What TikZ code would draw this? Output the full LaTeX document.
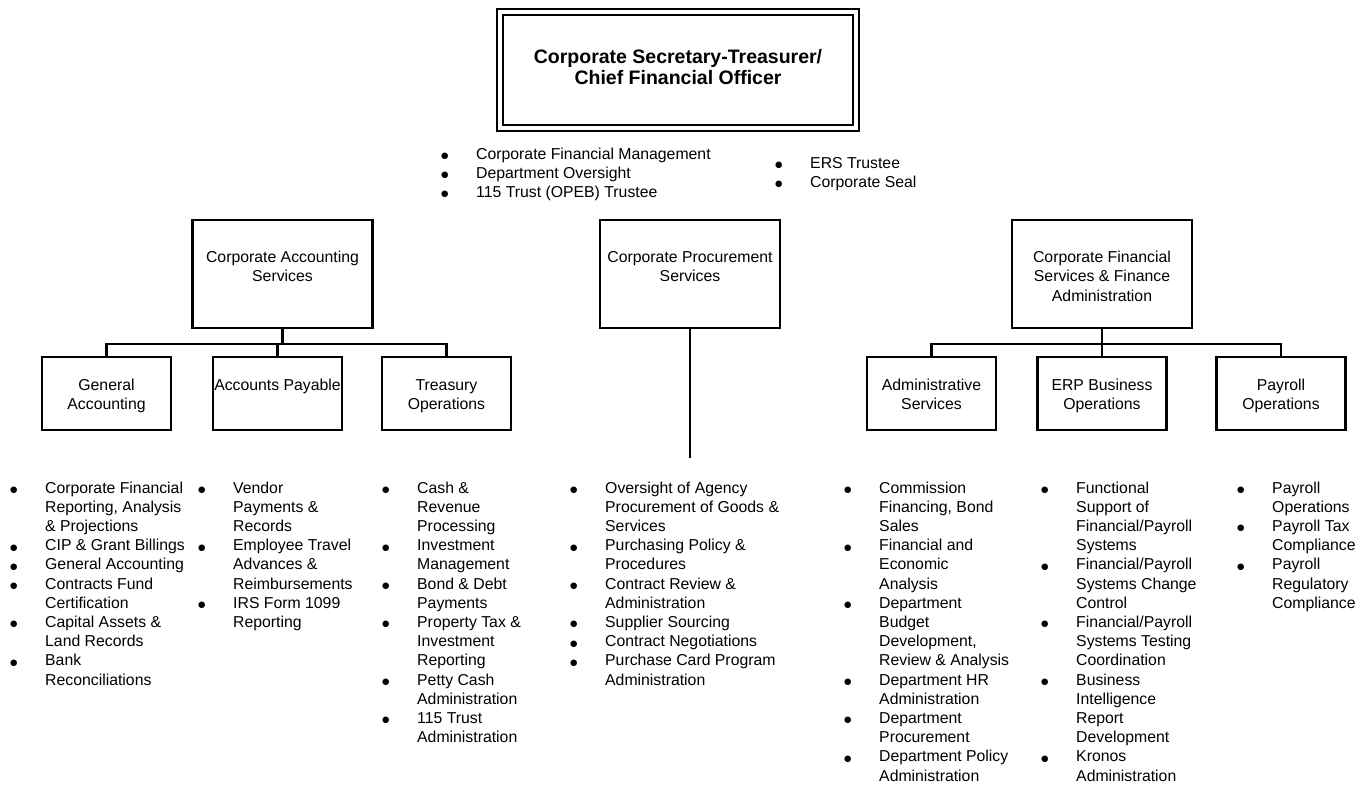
\documentclass[tikz,border=0pt]{standalone}
\usepackage{fontspec}
\setmainfont{Liberation Sans}
\newfontfamily\dotfont{DejaVu Sans}
\usetikzlibrary{positioning}
\newcommand{\bodyfont}{\fontsize{15.8}{19.2}\selectfont}
\newcommand{\titlefont}{\fontsize{19.5}{21}\selectfont\bfseries}
\newcommand{\bul}{\raisebox{0.6pt}{\fontsize{8.5}{8.5}\dotfont ●}}
\newcommand{\boxtext}[1]{\begin{tabular}[t]{@{}c@{}}#1\end{tabular}}
\newcommand{\dutylist}[1]{\begin{tabular}[t]{@{}p{35pt}@{}l@{}}#1\end{tabular}}
\tikzset{
    headbox/.style={draw, double, line width=1.8pt, double distance=4.2pt, minimum width=356, minimum height=116, inner sep=0, text height=12pt, text depth=24.8pt, font=\titlefont},
    unit/.style={draw, line width=2.2pt, minimum width=180, minimum height=108, inner sep=0, text height=12pt, text depth=34.8pt, font=\bodyfont},
    sub/.style={draw, line width=2.2pt, minimum width=129, minimum height=73, inner sep=0, text height=12pt, text depth=17.8pt, font=\bodyfont},
    link/.style={-, line width=2.2pt, draw=black},
    duties/.style={anchor=base west, inner sep=0, font=\bodyfont},
}
\begin{document}
\begin{tikzpicture}[x=1pt, y=-1pt]
    \useasboundingbox (0,0) rectangle (1359,785);
    % top office
    \node[headbox] (cfo) at (678,70) {\boxtext{Corporate Secretary-Treasurer/\\Chief Financial Officer}};
    \node[duties] (cfoduty) at (441,159) {\dutylist{
        \bul & Corporate Financial Management\\
        \bul & Department Oversight\\
        \bul & 115 Trust (OPEB) Trustee\\}};
    \node[duties] (cfoduty2) at (775,168) {\dutylist{
        \bul & ERS Trustee\\
        \bul & Corporate Seal\\}};

    % divisions
    \node[unit] (cas) at (282.5,274) {\boxtext{Corporate Accounting\\Services}};
    \node[unit] (cps) at (690,274) {\boxtext{Corporate Procurement\\Services}};
    \node[unit] (cfs) at (1102,274) {\boxtext{Corporate Financial\\Services \& Finance\\Administration}};

    % sections
    \node[sub] (ga) at (106.5,393.5) {\boxtext{General\\Accounting}};
    \node[sub] (ap) at (277.5,393.5) {\boxtext{Accounts Payable}};
    \node[sub] (to) at (446.5,393.5) {\boxtext{Treasury\\Operations}};
    \node[sub] (ads) at (931.5,393.5) {\boxtext{Administrative\\Services}};
    \node[sub] (erp) at (1102,393.5) {\boxtext{ERP Business\\Operations}};
    \node[sub] (pay) at (1281,393.5) {\boxtext{Payroll\\Operations}};

    \coordinate (casbar) at (282.5,344);
    \coordinate (cfsbar) at (1102,344);
    \coordinate (cpsend) at (690,458);
    \draw[link] (cas) -- (casbar);
    \draw[link] (ga.north) |- (casbar) -| (to.north);
    \draw[link] (ap.north) -- (ap.north |- casbar);
    \draw[link] (cfs) -- (cfsbar);
    \draw[link] (ads.north) |- (cfsbar) -| (pay.north);
    \draw[link] (erp) -- (cfsbar);
    \draw[link] (cps) -- (cpsend);

    % duties
    \node[duties] (gaduty) at (10,493) {\dutylist{
        \bul & Corporate Financial\\
             & Reporting, Analysis\\
             & \& Projections\\
        \bul & CIP \& Grant Billings\\
        \bul & General Accounting\\
        \bul & Contracts Fund\\
             & Certification\\
        \bul & Capital Assets \&\\
             & Land Records\\
        \bul & Bank\\
             & Reconciliations\\}};
    \node[duties] (apduty) at (198,493) {\dutylist{
        \bul & Vendor\\
             & Payments \&\\
             & Records\\
        \bul & Employee Travel\\
             & Advances \&\\
             & Reimbursements\\
        \bul & IRS Form 1099\\
             & Reporting\\}};
    \node[duties] (toduty) at (382,493) {\dutylist{
        \bul & Cash \&\\
             & Revenue\\
             & Processing\\
        \bul & Investment\\
             & Management\\
        \bul & Bond \& Debt\\
             & Payments\\
        \bul & Property Tax \&\\
             & Investment\\
             & Reporting\\
        \bul & Petty Cash\\
             & Administration\\
        \bul & 115 Trust\\
             & Administration\\}};
    \node[duties] (cpsduty) at (570,493) {\dutylist{
        \bul & Oversight of Agency\\
             & Procurement of Goods \&\\
             & Services\\
        \bul & Purchasing Policy \&\\
             & Procedures\\
        \bul & Contract Review \&\\
             & Administration\\
        \bul & Supplier Sourcing\\
        \bul & Contract Negotiations\\
        \bul & Purchase Card Program\\
             & Administration\\}};
    \node[duties] (adsduty) at (844,493) {\dutylist{
        \bul & Commission\\
             & Financing, Bond\\
             & Sales\\
        \bul & Financial and\\
             & Economic\\
             & Analysis\\
        \bul & Department\\
             & Budget\\
             & Development,\\
             & Review \& Analysis\\
        \bul & Department HR\\
             & Administration\\
        \bul & Department\\
             & Procurement\\
        \bul & Department Policy\\
             & Administration\\}};
    \node[duties] (erpduty) at (1041,493) {\dutylist{
        \bul & Functional\\
             & Support of\\
             & Financial/Payroll\\
             & Systems\\
        \bul & Financial/Payroll\\
             & Systems Change\\
             & Control\\
        \bul & Financial/Payroll\\
             & Systems Testing\\
             & Coordination\\
        \bul & Business\\
             & Intelligence\\
             & Report\\
             & Development\\
        \bul & Kronos\\
             & Administration\\}};
    \node[duties] (payduty) at (1237,493) {\dutylist{
        \bul & Payroll\\
             & Operations\\
        \bul & Payroll Tax\\
             & Compliance\\
        \bul & Payroll\\
             & Regulatory\\
             & Compliance\\}};
\end{tikzpicture}
\end{document}
